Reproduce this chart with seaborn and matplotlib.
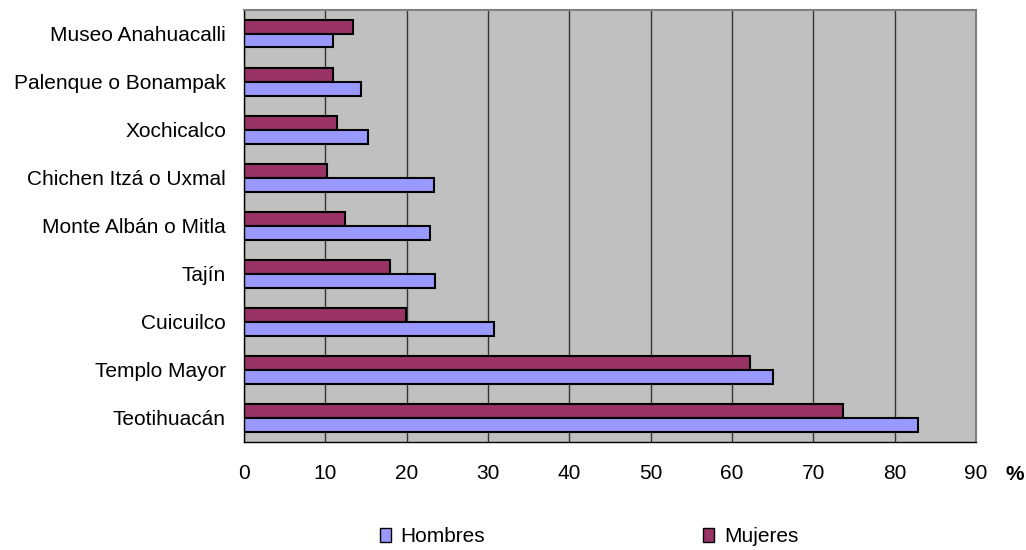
import matplotlib
matplotlib.use('Agg')
import matplotlib.pyplot as plt
import seaborn as sns
import pandas as pd
from matplotlib.patches import Patch

# sitios (de arriba hacia abajo)
sitios = ['Museo Anahuacalli', 'Palenque o Bonampak', 'Xochicalco', 'Chichen Itzá o Uxmal',
          'Monte Albán o Mitla', 'Tajín', 'Cuicuilco', 'Templo Mayor', 'Teotihuacán']
hombres = [11.0, 14.4, 15.3, 23.4, 22.9, 23.5, 30.7, 65.0, 82.9]
mujeres = [13.4, 11.0, 11.4, 10.2, 12.4, 17.9, 19.9, 62.2, 73.6]

colores = {'Hombres': '#9999FF', 'Mujeres': '#993366'}

df = pd.DataFrame({'sitio': sitios * 2,
                   'valor': hombres + mujeres,
                   'sexo': ['Hombres'] * len(sitios) + ['Mujeres'] * len(sitios)})

sns.set_style('white')
plt.rcParams['font.family'] = ['Liberation Sans', 'DejaVu Sans']
plt.rcParams['text.color'] = 'black'
plt.rcParams['xtick.color'] = 'black'
plt.rcParams['ytick.color'] = 'black'

fig = plt.figure(figsize=(10.26, 5.5), dpi=100)
ax = fig.add_axes([0.2378, 0.1964, 0.9513 - 0.2378, 0.9827 - 0.1964])

sns.barplot(data=df, y='sitio', x='valor', hue='sexo', order=sitios,
            hue_order=['Mujeres', 'Hombres'], palette=colores, orient='h',
            width=0.58, saturation=1, edgecolor='black', linewidth=1.5,
            legend=False, ax=ax)

ax.set_facecolor('#C0C0C0')
ax.set_xlim(0, 90)
ax.set_ylim(len(sitios) - 0.5, -0.5)
ax.set_xticks(range(0, 91, 10))
ax.xaxis.grid(True, color='#333333', linewidth=1)
ax.set_axisbelow(True)
ax.set_xlabel('')
ax.set_ylabel('')

# etiquetas centradas, marcas entre categorias
ax.set_yticks(range(len(sitios)))
ax.set_yticklabels(sitios)
ax.set_yticks([i - 0.5 for i in range(len(sitios) + 1)], minor=True)
ax.tick_params(axis='y', which='major', length=0, pad=13, labelsize=15)
ax.tick_params(axis='y', which='minor', length=5, width=1, color='black', direction='out')
ax.tick_params(axis='x', length=5, width=1, color='black', direction='out', labelsize=15, pad=11)

for lado in ['left', 'bottom']:
    ax.spines[lado].set_color('black')
    ax.spines[lado].set_linewidth(1)
for lado in ['top', 'right']:
    ax.spines[lado].set_color('#808080')
    ax.spines[lado].set_linewidth(1.5)

fig.text(0.989, 0.138, '%', fontsize=15, fontweight='bold', ha='center', va='center')

handles = [Patch(facecolor=colores['Hombres'], edgecolor='black', label='Hombres'),
           Patch(facecolor=colores['Mujeres'], edgecolor='black', label='Mujeres')]
fig.legend(handles=handles, loc='center', bbox_to_anchor=(0.574, 0.024), ncol=2,
           frameon=False, fontsize=15, handlelength=0.53, handleheight=0.6,
           handletextpad=0.45, columnspacing=10.5)

plt.savefig('out.png', dpi=100)
